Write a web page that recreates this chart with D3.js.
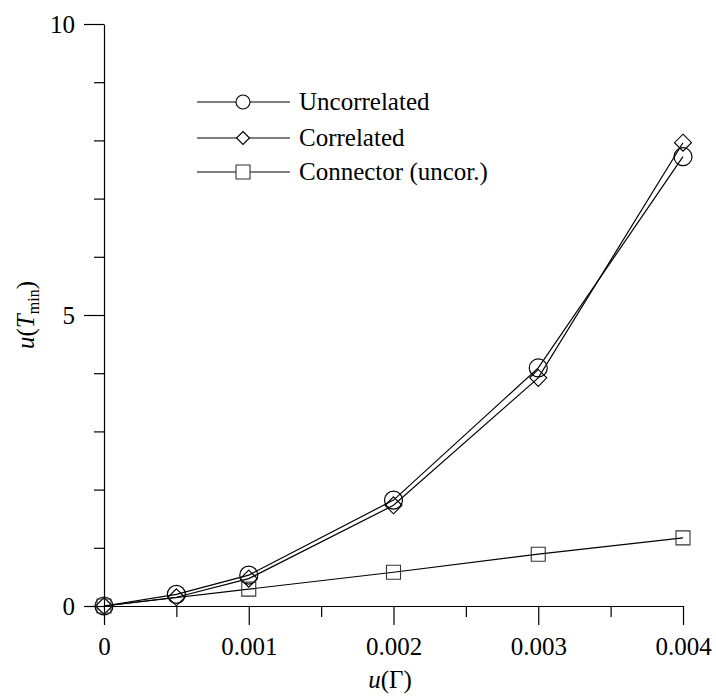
<!DOCTYPE html>
<html>
<head>
<meta charset="utf-8">
<script src="https://cdn.jsdelivr.net/npm/d3@7"></script>
<style>
  body { margin: 0; background: #fff; }
</style>
</head>
<body>
<div id="chart"></div>
<script>
// data
const gamma = [0, 0.0005, 0.001, 0.002, 0.003, 0.004];
const uncorrelated = [0, 0.2, 0.53, 1.82, 4.09, 7.72];
const correlated = [0, 0.15, 0.47, 1.73, 3.92, 7.96];
const connGamma = [0, 0.001, 0.002, 0.003, 0.004];
const connector = [0, 0.29, 0.58, 0.89, 1.17];
const seriesNames = ["Uncorrelated", "Correlated", "Connector (uncor.)"];
const xTicks = [0, 0.001, 0.002, 0.003, 0.004];
const xTickLabels = ["0", "0.001", "0.002", "0.003", "0.004"];
const xMinor = [0.0005, 0.0015, 0.0025, 0.0035];
const yTicks = [0, 5, 10];
const yMinor = [1, 2, 3, 4, 6, 7, 8, 9];

const FONT = "'Liberation Serif', 'Times New Roman', Times, 'DejaVu Serif', serif";

const W = 716, H = 698;
const svg = d3.select("#chart").append("svg")
  .attr("width", W).attr("height", H);

const x = d3.scaleLinear().domain([0, 0.004]).range([104, 683]);
const y = d3.scaleLinear().domain([0, 10]).range([606, 24]);

// x axis
svg.append("g")
  .attr("transform", `translate(0,${y(0)})`)
  .call(d3.axisBottom(x).tickValues(xMinor).tickSize(11).tickSizeOuter(0).tickFormat(""))
  .call(g => g.select(".domain").remove())
  .selectAll("line").attr("stroke", "#000").attr("stroke-width", 1.2);

svg.append("g")
  .attr("transform", `translate(0,${y(0)})`)
  .call(d3.axisBottom(x).tickValues(xTicks).tickSize(19).tickSizeOuter(0).tickPadding(12)
    .tickFormat((d, i) => xTickLabels[i]))
  .call(g => g.select(".domain").attr("stroke", "#000").attr("stroke-width", 1.2))
  .call(g => g.selectAll("line").attr("stroke", "#000").attr("stroke-width", 1.2))
  .call(g => g.selectAll("text").style("font-family", FONT).style("font-size", "25px"));

// y axis
svg.append("g")
  .attr("transform", `translate(${x(0)},0)`)
  .call(d3.axisLeft(y).tickValues(yMinor).tickSize(10).tickSizeOuter(0).tickFormat(""))
  .call(g => g.select(".domain").remove())
  .selectAll("line").attr("stroke", "#000").attr("stroke-width", 1.2);

svg.append("g")
  .attr("transform", `translate(${x(0)},0)`)
  .call(d3.axisLeft(y).tickValues(yTicks).tickSize(20).tickSizeOuter(0).tickPadding(9))
  .call(g => g.select(".domain").attr("stroke", "#000").attr("stroke-width", 1.2))
  .call(g => g.selectAll("line").attr("stroke", "#000").attr("stroke-width", 1.2))
  .call(g => g.selectAll("text").style("font-family", FONT).style("font-size", "25px"));

// axis titles
const xt = svg.append("text")
  .attr("x", 390).attr("y", 688)
  .attr("text-anchor", "middle")
  .style("font-family", FONT)
  .style("font-size", "25px");
xt.append("tspan").style("font-style", "italic").text("u");
xt.append("tspan").text("(Γ)");

const yt = svg.append("text")
  .attr("transform", "translate(34,315) rotate(-90)")
  .attr("text-anchor", "middle")
  .style("font-family", FONT)
  .style("font-size", "25px");
yt.append("tspan").style("font-style", "italic").text("u");
yt.append("tspan").text("(");
yt.append("tspan").style("font-style", "italic").text("T");
yt.append("tspan").attr("dy", 5).style("font-size", "16px").text("min");
yt.append("tspan").attr("dy", -5).text(")");

// symbols
function diamondPath(r) {
  return `M0,${-r}L${r},0L0,${r}L${-r},0Z`;
}
function squarePath(s) {
  return `M${-s / 2},${-s / 2}h${s}v${s}h${-s}Z`;
}

const line = d3.line().x(d => x(d[0])).y(d => y(d[1]));

const unc = gamma.map((g, i) => [g, uncorrelated[i]]);
const cor = gamma.map((g, i) => [g, correlated[i]]);
const con = connGamma.map((g, i) => [g, connector[i]]);

[unc, cor, con].forEach(d => {
  svg.append("path").datum(d)
    .attr("d", line)
    .attr("fill", "none")
    .attr("stroke", "#000")
    .attr("stroke-width", 1.2);
});

svg.selectAll(".circ").data(unc).join("circle")
  .attr("cx", d => x(d[0])).attr("cy", d => y(d[1]))
  .attr("r", 9).attr("fill", "none").attr("stroke", "#000").attr("stroke-width", 1.2);

svg.selectAll(".diam").data(cor).join("path")
  .attr("transform", d => `translate(${x(d[0])},${y(d[1])})`)
  .attr("d", diamondPath(8.5))
  .attr("fill", "none").attr("stroke", "#000").attr("stroke-width", 1.1);

svg.selectAll(".sq").data(con).join("path")
  .attr("transform", d => `translate(${x(d[0])},${y(d[1])})`)
  .attr("d", squarePath(14))
  .attr("fill", "none").attr("stroke", "#333").attr("stroke-width", 1.1);

// legend
const legRows = [102, 138, 172];
const leg = svg.append("g");
seriesNames.forEach((name, i) => {
  const ly = legRows[i];
  leg.append("line").attr("x1", 197).attr("x2", 290).attr("y1", ly).attr("y2", ly)
    .attr("stroke", "#000").attr("stroke-width", 1.1);
  if (i === 0) {
    leg.append("circle").attr("cx", 243).attr("cy", ly).attr("r", 7)
      .attr("fill", "#fff").attr("stroke", "#000").attr("stroke-width", 1.1);
  } else if (i === 1) {
    leg.append("path").attr("transform", `translate(243,${ly})`).attr("d", diamondPath(6.5))
      .attr("fill", "#fff").attr("stroke", "#000").attr("stroke-width", 1.1);
  } else {
    leg.append("path").attr("transform", `translate(243,${ly})`).attr("d", squarePath(14))
      .attr("fill", "#fff").attr("stroke", "#333").attr("stroke-width", 1.1);
  }
  leg.append("text").attr("x", 299).attr("y", ly + 8)
    .style("font-family", FONT)
    .style("font-size", "25px").text(name);
});
</script>
</body>
</html>
